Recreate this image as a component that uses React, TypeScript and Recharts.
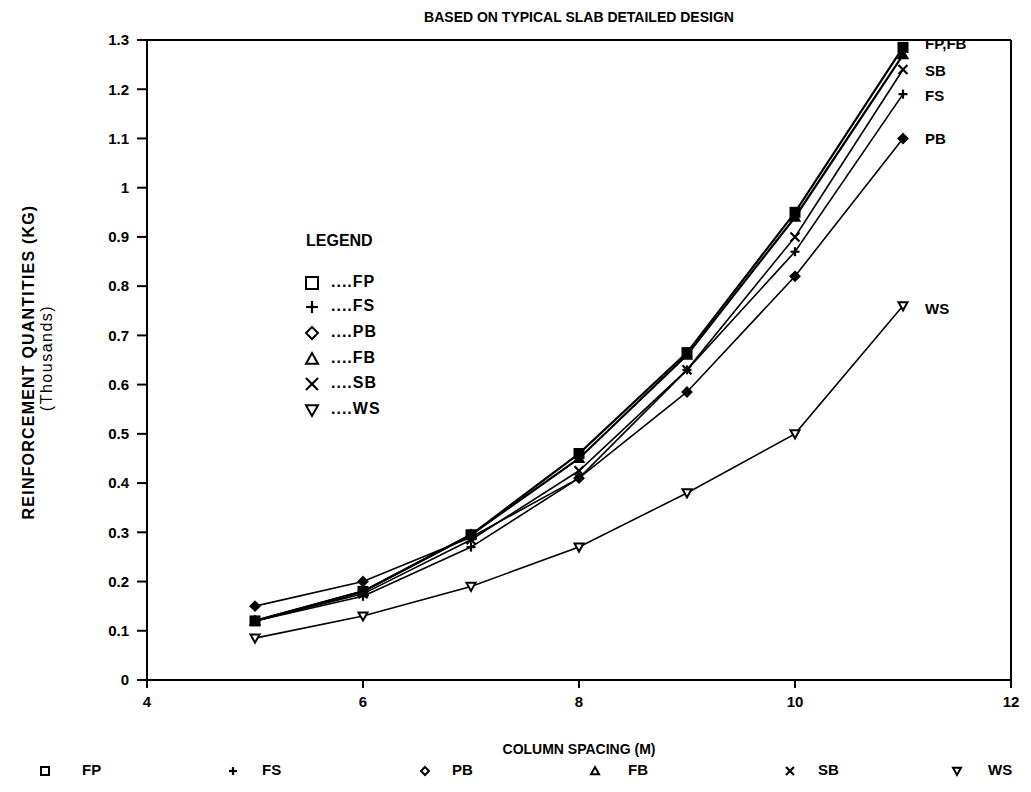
import React from 'react';
import { LineChart, Line, XAxis, YAxis, ReferenceLine } from 'recharts';

const spacing = [5, 6, 7, 8, 9, 10, 11];
const fp = [0.12, 0.18, 0.295, 0.46, 0.665, 0.95, 1.285];
const fs = [0.12, 0.17, 0.27, 0.41, 0.63, 0.87, 1.19];
const pb = [0.15, 0.2, 0.29, 0.41, 0.585, 0.82, 1.1];
const fb = [0.12, 0.18, 0.295, 0.45, 0.66, 0.94, 1.27];
const sb = [0.12, 0.175, 0.285, 0.425, 0.63, 0.9, 1.24];
const ws = [0.085, 0.13, 0.19, 0.27, 0.38, 0.5, 0.76];
const xTicks = [4, 6, 8, 10, 12];
const yTicks = [0, 0.1, 0.2, 0.3, 0.4, 0.5, 0.6, 0.7, 0.8, 0.9, 1, 1.1, 1.2, 1.3];

const seriesKeys = ['FP', 'FS', 'PB', 'FB', 'SB', 'WS'];
const endLabels: Record<string, string> = { FP: 'FP,FB', FS: 'FS', PB: 'PB', FB: '', SB: 'SB', WS: 'WS' };
const endLabelDy: Record<string, number> = { FP: -2, FS: 3, PB: 2, FB: 0, SB: 2, WS: 4 };

const data = spacing.map((x, i) => ({
  x,
  FP: fp[i],
  FS: fs[i],
  PB: pb[i],
  FB: fb[i],
  SB: sb[i],
  WS: ws[i],
}));

const FONT = '"Liberation Sans", Arial, sans-serif';

function Marker({ kind, cx, cy, filled, s = 5 }: { kind: string; cx: number; cy: number; filled: boolean; s?: number }) {
  const fill = filled ? '#000' : '#fff';
  switch (kind) {
    case 'FP':
      return <rect x={cx - s} y={cy - s} width={2 * s} height={2 * s} fill={fill} stroke="#000" strokeWidth={2} />;
    case 'FS':
      return (
        <g stroke="#000" strokeWidth={2.2}>
          <line x1={cx - s} y1={cy} x2={cx + s} y2={cy} />
          <line x1={cx} y1={cy - s} x2={cx} y2={cy + s} />
        </g>
      );
    case 'PB':
      return (
        <polygon
          points={`${cx},${cy - s} ${cx + s},${cy} ${cx},${cy + s} ${cx - s},${cy}`}
          fill={fill}
          stroke="#000"
          strokeWidth={2}
        />
      );
    case 'FB':
      return (
        <polygon
          points={`${cx},${cy - s} ${cx + s},${cy + s * 0.8} ${cx - s},${cy + s * 0.8}`}
          fill={fill}
          stroke="#000"
          strokeWidth={2}
        />
      );
    case 'SB':
      return (
        <g stroke="#000" strokeWidth={2.2}>
          <line x1={cx - s} y1={cy - s} x2={cx + s} y2={cy + s} />
          <line x1={cx - s} y1={cy + s} x2={cx + s} y2={cy - s} />
        </g>
      );
    case 'WS':
    default:
      return (
        <polygon
          points={`${cx - s},${cy - s * 0.8} ${cx + s},${cy - s * 0.8} ${cx},${cy + s}`}
          fill="#fff"
          stroke="#000"
          strokeWidth={2}
        />
      );
  }
}

const makeDot = (kind: string) => (props: any) => {
  const { cx, cy, index } = props;
  if (cx == null || cy == null) return <g key={`${kind}-${index}`} />;
  return (
    <g key={`${kind}-${index}`}>
      <Marker kind={kind} cx={cx} cy={cy} filled={kind !== 'WS'} s={4.5} />
    </g>
  );
};

const makeLabel = (kind: string) => (props: any) => {
  const { x, y, index } = props;
  if (index !== spacing.length - 1 || !endLabels[kind]) return null;
  return (
    <text
      x={x + 22}
      y={y + endLabelDy[kind]}
      fontFamily={FONT}
      fontSize={15}
      fontWeight={700}
      fill="#000"
      dominantBaseline="middle"
    >
      {endLabels[kind]}
    </text>
  );
};

const legendRowsY = [283, 307, 333, 359, 384, 410];
const bottomItemX = [45, 233, 425, 595, 790, 957];
const bottomLabelX = [82, 262, 452, 628, 818, 988];

export default function App() {
  return (
    <div style={{ position: 'absolute', left: 0, top: 0, width: 1031, height: 792, background: '#fff' }}>
      <LineChart width={1031} height={792} data={data} margin={{ top: 40, right: 20, left: 0, bottom: 82 }}>
        <XAxis
          dataKey="x"
          type="number"
          domain={[4, 12]}
          ticks={xTicks}
          allowDataOverflow
          stroke="#000"
          strokeWidth={2}
          tickSize={8}
          tickMargin={8}
          height={30}
          tick={{ fill: '#000', fontFamily: FONT, fontSize: 15, fontWeight: 700 }}
        />
        <YAxis
          type="number"
          domain={[0, 1.3]}
          ticks={yTicks}
          allowDataOverflow
          width={147}
          stroke="#000"
          strokeWidth={2}
          tickSize={10}
          tickMargin={8}
          tickFormatter={(v: number) => (v === 0 ? '0' : v === 1 ? '1' : String(Number(v.toFixed(1))))}
          tick={{ fill: '#000', fontFamily: FONT, fontSize: 15, fontWeight: 700 }}
        />
        <ReferenceLine y={1.3} stroke="#000" strokeWidth={2} ifOverflow="extendDomain" />
        <ReferenceLine x={12} stroke="#000" strokeWidth={2} ifOverflow="extendDomain" />
        {seriesKeys.map((k) => (
          <Line
            key={k}
            type="linear"
            dataKey={k}
            stroke="#000"
            strokeWidth={k === 'FP' || k === 'FB' ? 2.2 : 1.6}
            dot={makeDot(k)}
            activeDot={false}
            label={makeLabel(k)}
            isAnimationActive={false}
          />
        ))}
        <text x={579} y={18} textAnchor="middle" dominantBaseline="middle" fontFamily={FONT} fontSize={14} fontWeight={700}>
          BASED ON TYPICAL SLAB DETAILED DESIGN
        </text>
        <text x={579} y={750} textAnchor="middle" dominantBaseline="middle" fontFamily={FONT} fontSize={14} fontWeight={700}>
          COLUMN SPACING (M)
        </text>
        <text
          x={30}
          y={362}
          transform="rotate(-90 30 362)"
          textAnchor="middle"
          dominantBaseline="middle"
          fontFamily={FONT}
          fontSize={16}
          fontWeight={700}
          letterSpacing={1.2}
        >
          REINFORCEMENT QUANTITIES (KG)
        </text>
        <text
          x={48}
          y={358}
          transform="rotate(-90 48 358)"
          textAnchor="middle"
          dominantBaseline="middle"
          fontFamily={FONT}
          fontSize={16}
          letterSpacing={1.5}
        >
          (Thousands)
        </text>
        <text x={306} y={242} dominantBaseline="middle" fontFamily={FONT} fontSize={16} fontWeight={700}>
          LEGEND
        </text>
        {seriesKeys.map((k, i) => (
          <g key={`lg-${k}`}>
            <Marker kind={k} cx={312} cy={legendRowsY[i]} filled={false} s={6} />
            <text x={331} y={legendRowsY[i]} dominantBaseline="middle" fontFamily={FONT} fontSize={16} fontWeight={700} letterSpacing={1}>
              {`....${k}`}
            </text>
          </g>
        ))}
        {seriesKeys.map((k, i) => (
          <g key={`blg-${k}`}>
            <Marker kind={k} cx={bottomItemX[i]} cy={771} filled={false} s={4} />
            <text x={bottomLabelX[i]} y={771} dominantBaseline="middle" fontFamily={FONT} fontSize={15} fontWeight={700}>
              {k}
            </text>
          </g>
        ))}
      </LineChart>
    </div>
  );
}
